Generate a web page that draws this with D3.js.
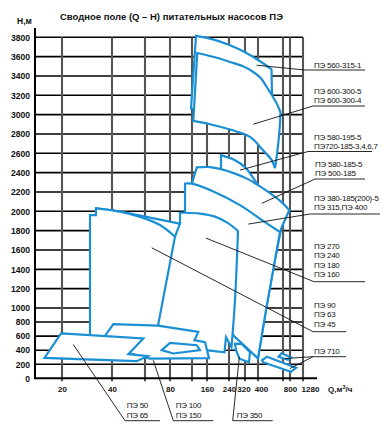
<!DOCTYPE html>
<html><head><meta charset="utf-8">
<script src="https://cdn.jsdelivr.net/npm/d3@7"></script>
<style>body{margin:0;background:#fff}svg{display:block}</style>
</head><body>
<svg id="c" width="381" height="433"></svg>
<script>
// ---------------- data ----------------
const xTickValues = [20,40,80,160,240,320,400,800,1280];
const xGridValues = [20,40,60,80,120,160,240,320,400,640,800,1280];
const yTickValues = d3.range(0,3801,200);
const xKnots = [14,20,40,60,80,120,160,240,320,400,640,800,1280,1900];
const yKnots = [0,1000,3800];

const pe560 = [
 [[130.7,3815],[181.8,3779],[245,3717],[320,3645],[419,3552],[529.6,3469]],
 [[529.6,3469],[534.4,3201]],
 [[534.4,3201],[295,3149]],
 [[295,3149],[124,3063]],
 [[124,3063],[118.2,3063]],
 [[118.2,3063],[130.7,3815]]
];
const pe600 = [
 [[134.1,3638],[189.1,3593],[245,3545],[310,3500],[371.1,3441],[428.8,3376],[483.5,3286],[534.4,3201],[579.5,3115],[616,3025]],
 [[616,3025],[606.4,2839],[587.2,2632],[563.2,2446]],
 [[563.2,2446],[531.5,2529],[448,2632],[350.8,2770],[245,2846],[170.9,2901],[123.5,2935]],
 [[123.5,2935],[134.1,3638]]
];
const pe580_195 = [
 [[210.9,2581],[270,2529],[320,2457],[363.1,2364],[400,2271]],
 [[400,2271],[438.4,2116]],
 [[438.4,2116],[210.9,2322]],
 [[210.9,2322],[210.9,2581]]
];
const pe580_185 = [
 [[132.5,2454],[170.9,2457],[210.9,2436],[270,2390],[338.5,2333],[400,2271],[515.2,2188],[620.8,2100],[784,2012]],
 [[784,2012],[662.9,1889]],
 [[662.9,1889],[620.8,1816]],
 [[620.8,1816],[553.6,1444],[476.8,971],[400,286]],
 [[400,286],[275,586]],
 [[275,586],[120,1806]],
 [[120,1806],[120,2288]],
 [[120,2288],[132.5,2454]]
];
const pe380 = [
 [[107.3,2288],[119.5,2286],[189.1,2198],[295,2064],[438.4,1909],[611.2,1785]],
 [[611.2,1785],[553.6,1444],[476.8,971],[400,286]],
 [[400,286],[265,600]],
 [[265,600],[229,829]],
 [[229,829],[107.3,1400]],
 [[107.3,1400],[107.3,2288]]
];
const pe270 = [
 [[98.2,1875],[98.2,1985]],
 [[98.2,1985],[107.3,1985]],
 [[107.3,1985],[141.3,1976],[189.1,1945],[236.4,1878],[285,1796]],
 [[285,1796],[270,1083],[252.5,443]],
 [[252.5,443],[229.1,586]],
 [[229.1,586],[223.6,371]],
 [[223.6,371],[157.3,400]],
 [[157.3,400],[141.3,471]],
 [[141.3,471],[72,657]],
 [[72,657],[69.6,829]],
 [[69.6,829],[79.2,1496]],
 [[79.2,1496],[85.5,1703]],
 [[85.5,1703],[95.1,1847]],
 [[95.1,1847],[98.2,1875]]
];
const pe90a = [
 [[33.6,2030],[42.8,2002],[57,1956],[72,1914],[95.1,1875]],
 [[95.1,1875],[98.2,1875]],
 [[98.2,1875],[89.1,1737]],
 [[89.1,1737],[33.6,1737]],
 [[33.6,1737],[33.6,2030]]
];
const pe90b = [
 [[31.2,543],[31.2,1961]],
 [[31.2,1961],[33.6,1961]],
 [[33.6,1961],[33.6,2030]],
 [[33.6,2030],[42.8,2002],[57,1943],[72,1858],[89.1,1737]],
 [[89.1,1737],[70.4,750]],
 [[70.4,750],[69.6,614]],
 [[69.6,614],[31.2,543]]
];
const pe100 = [[40.8,771],[70.4,750],[136.8,661],[126.7,543],[154.7,514],[167.3,286],[64,279],[34.6,471]];
const pe150 = [[73.4,400],[80,504],[132.5,471],[141.3,400],[86,353]];
const pe50  = [[19.8,639],[59,567],[49.9,343],[62,314],[55,243],[16.1,290]];
const pe350 = [[270,493],[305,486],[350.8,371],[344.6,229],[292.5,279],[275,400]];
const pe710a = [[438.4,257],[486.4,307],[1021.5,150],[836.9,93],[448,229]];
const pe710b = [[596.8,307],[625.6,357],[836.9,300],[754.3,264]];

const labelLines = [
 ["ПЭ 560-315-1"],
 ["ПЭ 600-300-5","ПЭ 600-300-4"],
 ["ПЭ 580-195-5","ПЭ720-185-3,4,6,7"],
 ["ПЭ 580-185-5","ПЭ 500-185"],
 ["ПЭ 380-185(200)-5","ПЭ 315,ПЭ 400"],
 ["ПЭ 270","ПЭ 240","ПЭ 180","ПЭ 160"],
 ["ПЭ 90","ПЭ 63","ПЭ 45"],
 ["ПЭ 710"],
 ["ПЭ 50","ПЭ 65"],
 ["ПЭ 100","ПЭ 150"],
 ["ПЭ 350"]
];
const labelTargets = [
 [[392,3511]],
 [[371,2901]],
 [[295,2426]],
 [[435.5,2082]],
 [[340.3,1868]],
 [[157.3,1723]],
 [[65.4,1623]],
 [[685.7,281],[800,139]],
 [[24.5,481]],
 [[66.6,257]],
 [[291.5,304]]
];

// ---------------- layout ----------------
const labelLayout = [
 {tx:314, base:[67.5], ul:70, u1:305, u2:365},
 {tx:314, base:[94.3,103.3], ul:106, u1:313, u2:365},
 {tx:314, base:[140,148.7], ul:151.5, u1:308, u2:372},
 {tx:315, base:[166.7,175.7], ul:179, u1:315, u2:365},
 {tx:314, base:[200.5,210], ul:214, u1:310, u2:380},
 {tx:314, base:[249.3,258.3,268.3,277.3], ul:281.7, u1:314, u2:365},
 {tx:314, base:[308.3,317.3,326.7], ul:331.7, u1:313, u2:346},
 {tx:314, base:[354], ul:356.7, u1:313, u2:346},
 {tx:126.7, base:[408.3,418.3], ul:420.7, u1:125, u2:160},
 {tx:175.7, base:[408.3,418.3], ul:420.7, u1:173.3, u2:213.3},
 {tx:236.7, base:[418.3], ul:420.7, u1:232.7, u2:272.7}
];
const xLabelShift = {320:-1.5, 400:3, 800:0, 1280:7};

const svg = d3.select("#c");
const x = d3.scaleLinear().domain(xKnots).range([35,62,112,145,170,192,207,229,245,258,283,290,303,317]);
const y = d3.scaleLinear().domain(yKnots).range([378.3,308,37.3]);
const BLUE = "#1a8fd3";
const FONT = "'Liberation Sans', Arial, sans-serif";

svg.append("rect").attr("x",0).attr("y",0).attr("width",381).attr("height",433).attr("fill","#fff");

// grid (under the pump zones)
const gGrid = svg.append("g");
yTickValues.filter(v=>v>0).forEach(v=>{
  gGrid.append("line").attr("x1", x(14)).attr("x2", x(1280)).attr("y1", y(v)).attr("y2", y(v))
   .attr("stroke","#000").attr("stroke-width",1.6);
});
xGridValues.forEach(v=>{
  gGrid.append("line").attr("x1", x(v)).attr("x2", x(v)).attr("y1", y(3800)).attr("y2", y(0)+3)
   .attr("stroke","#555").attr("stroke-width",2.1);
});

// shapes
const curveGen = d3.line().x(p=>x(p[0])).y(p=>y(p[1])).curve(d3.curveCatmullRom.alpha(0.5));
const lineGen = d3.line().x(p=>x(p[0])).y(p=>y(p[1]));
function runsPath(runs){
  let d = "";
  runs.forEach((r,i)=>{
    let s = (r.length>2 ? curveGen : lineGen)(r);
    if(i>0) s = "L" + s.slice(1);
    d += s;
  });
  return d + "Z";
}
const polyGen = d3.line().x(p=>x(p[0])).y(p=>y(p[1])).curve(d3.curveLinearClosed);
const shapes = [
 {runs:pe560},{runs:pe600},{runs:pe580_195},{runs:pe580_185},{runs:pe380},{runs:pe270},
 {runs:pe90a},{runs:pe90b},{poly:pe100},{poly:pe150},{poly:pe50},{poly:pe350},{poly:pe710a},{poly:pe710b}
];
shapes.forEach(s=>{
  svg.append("path").attr("d", s.runs ? runsPath(s.runs) : polyGen(s.poly))
   .attr("fill","#fff").attr("stroke",BLUE).attr("stroke-width",2.2).attr("stroke-linejoin","miter");
});

// axis lines
svg.append("line").attr("x1", x(14)).attr("x2", x(14)).attr("y1", 28).attr("y2", y(0)+1)
  .attr("stroke","#000").attr("stroke-width",2);
svg.append("line").attr("x1", x(14)).attr("x2", x(1900)).attr("y1", y(0)).attr("y2", y(0))
  .attr("stroke","#000").attr("stroke-width",2);

// tick labels
const yAxis = d3.axisLeft(y).tickValues(yTickValues).tickFormat(d3.format("d")).tickSize(0).tickPadding(5);
const ya = svg.append("g").attr("transform",`translate(${x(14)},0)`).call(yAxis);
ya.select(".domain").remove();
ya.selectAll("text").attr("font-family",FONT).attr("font-size","8.6px").attr("font-weight","bold").attr("fill","#111");

const xAxis = d3.axisBottom(x).tickValues(xTickValues).tickFormat(d3.format("d")).tickSize(0).tickPadding(8);
const xa = svg.append("g").attr("transform",`translate(0,${y(0)})`).call(xAxis);
xa.select(".domain").remove();
xa.selectAll("text").attr("font-family",FONT).attr("font-size","8px").attr("font-weight","bold").attr("fill","#111")
  .attr("dx", d => xLabelShift[d] || 0);

// labels & leaders
labelLines.forEach((lines,i)=>{
  const L = labelLayout[i];
  labelTargets[i].forEach(t=>{
    svg.append("line").attr("x1",x(t[0])).attr("y1",y(t[1])).attr("x2",L.u1).attr("y2",L.ul)
      .attr("stroke","#111").attr("stroke-width",0.9);
  });
  svg.append("line").attr("x1",L.u1).attr("x2",L.u2).attr("y1",L.ul).attr("y2",L.ul)
    .attr("stroke","#111").attr("stroke-width",0.9);
  lines.forEach((t,j)=>{
    svg.append("text").attr("x",L.tx).attr("y",L.base[j]).text(t)
      .attr("font-family",FONT).attr("font-size","8px").attr("letter-spacing","-0.25px").attr("fill","#111");
  });
});

// titles
svg.append("text").attr("x",60).attr("y",19.5).text("Сводное поле (Q – H) питательных насосов ПЭ")
 .attr("font-family",FONT).attr("font-size","9.5px").attr("font-weight","bold").attr("fill","#111");
svg.append("text").attr("x",17).attr("y",24).text("Н,м")
 .attr("font-family",FONT).attr("font-size","8.5px").attr("font-weight","bold").attr("fill","#111");
const ql = svg.append("text").attr("x",328).attr("y",392)
 .attr("font-family",FONT).attr("font-size","8px").attr("font-weight","bold").attr("fill","#111");
ql.append("tspan").text("Q,м");
ql.append("tspan").attr("dy",-3).attr("font-size","5.5px").text("3");
ql.append("tspan").attr("dy",3).text("/ч");
</script>
</body></html>
